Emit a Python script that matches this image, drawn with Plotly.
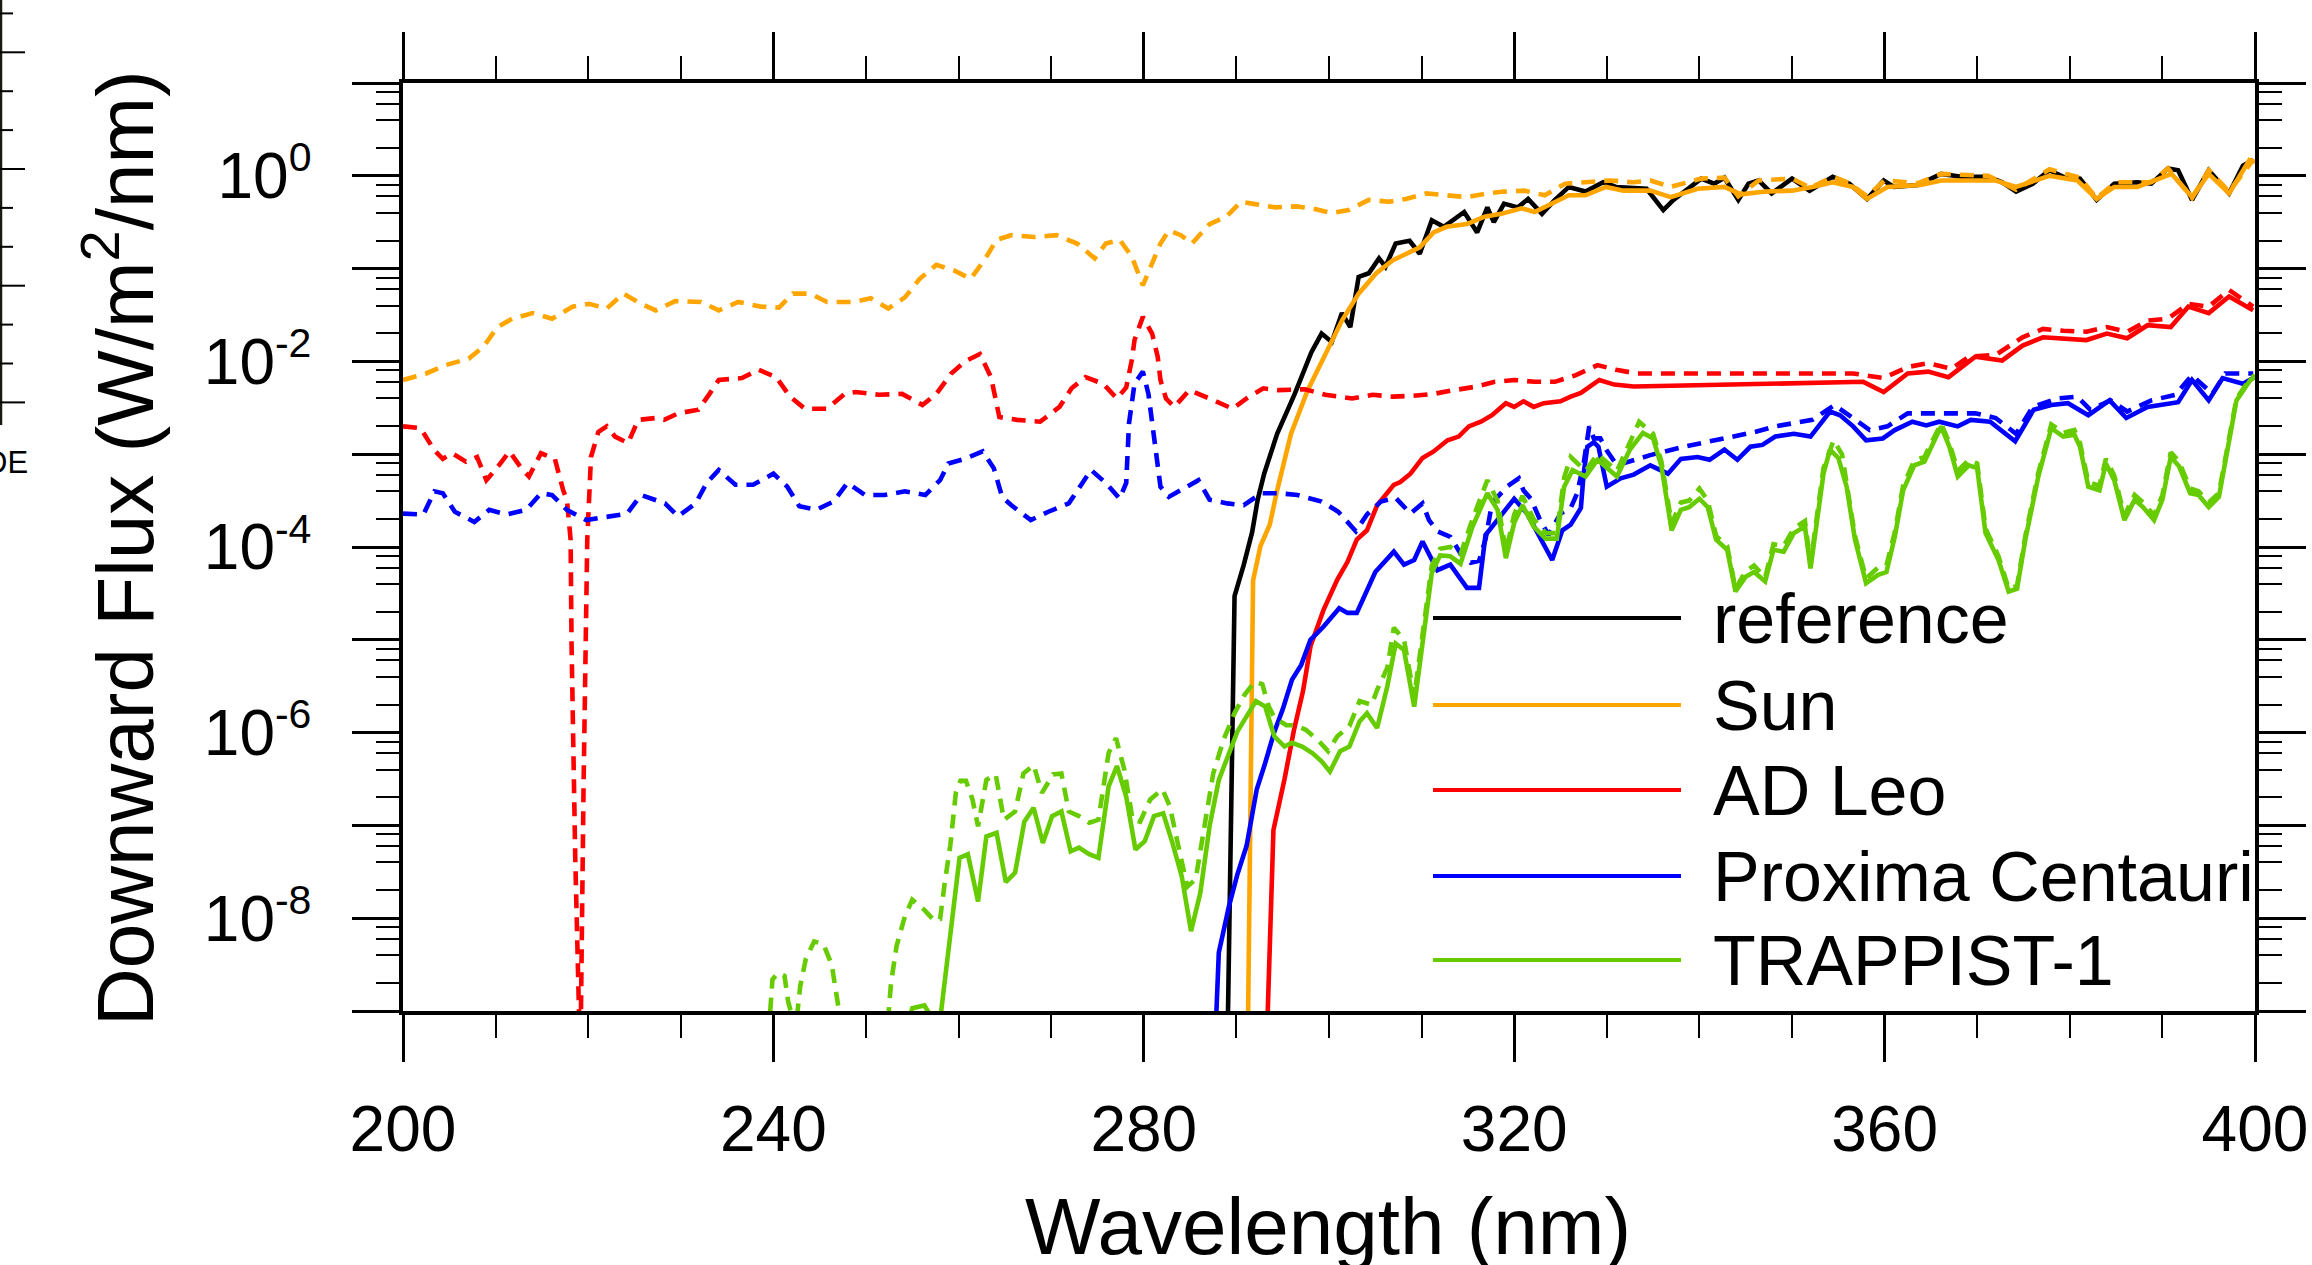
import numpy as np
import plotly.graph_objects as go

# ---------------- data (wavelength in nm, log10 of downward flux in W/m2/nm) ----------------
ref_wl = [289.0, 289.8, 290.8, 291.7, 292.3, 293.0, 294.4, 296.3, 298.1, 299.2, 300.3, 301.4, 302.3,
          303.2, 304.3, 305.4, 306.1, 307.2, 308.7, 309.8, 311.1, 312.4, 314.6, 316.0, 317.1, 317.8,
          318.9, 320.4, 321.5, 323.0, 324.4, 325.9, 327.7, 329.6, 331.0, 334.3, 336.1, 337.2, 340.2,
          341.6, 342.7, 344.2, 345.3, 346.4, 347.8, 350.0, 351.9, 354.4, 356.2, 358.1, 359.9, 361.0,
          363.6, 366.1, 368.3, 371.2, 372.7, 374.2, 376.0, 377.8, 379.3, 381.1, 382.9, 384.8, 387.3,
          388.8, 390.6, 391.7, 393.2, 395.0, 397.2, 398.7, 399.8]
ref_log = [-9.6, -4.53, -4.19, -3.84, -3.49, -3.21, -2.78, -2.35, -1.90, -1.70, -1.79, -1.48, -1.63,
           -1.09, -1.05, -0.89, -0.98, -0.73, -0.70, -0.84, -0.48, -0.55, -0.39, -0.61, -0.34, -0.50,
           -0.30, -0.34, -0.25, -0.41, -0.26, -0.12, -0.17, -0.07, -0.12, -0.14, -0.37, -0.26, -0.03,
           -0.085, -0.02, -0.26, -0.085, -0.05, -0.19, -0.03, -0.16, -0.01, -0.085, -0.25, -0.05, -0.12,
           -0.10, 0.02, -0.01, -0.01, -0.07, -0.17, -0.085, 0.06, -0.01, -0.03, -0.26, -0.085, -0.07,
           -0.085, 0.08, 0.06, -0.26, 0.06, -0.19, 0.11, 0.17]

sun_wl = [291.2, 291.8, 292.6, 293.6, 294.4, 295.9, 297.7, 299.6, 301.4, 303.2, 305.1, 306.9, 308.3,
          309.8, 311.3, 312.7, 314.9, 316.8, 318.6, 320.8, 322.2, 324.1, 325.9, 327.7, 329.9, 331.8,
          334.7, 336.9, 339.8, 342.7, 344.5, 347.1, 350.0, 352.2, 354.4, 356.6, 358.1, 360.3, 363.9,
          366.1, 368.3, 372.0, 374.2, 377.8, 380.8, 382.9, 384.8, 387.3, 391.0, 393.2, 395.0, 397.2,
          399.4, 400.0]
sun_log = [-9.6, -4.36, -3.99, -3.76, -3.39, -2.78, -2.31, -1.92, -1.56, -1.27, -1.05, -0.91, -0.84,
           -0.77, -0.61, -0.55, -0.52, -0.44, -0.41, -0.35, -0.39, -0.30, -0.21, -0.21, -0.12, -0.16,
           -0.16, -0.23, -0.14, -0.12, -0.20, -0.17, -0.16, -0.12, -0.07, -0.12, -0.25, -0.12, -0.10,
           -0.05, -0.05, -0.05, -0.12, 0.00, -0.05, -0.25, -0.12, -0.12, 0.02, -0.23, 0.02, -0.19,
           0.17, 0.15]

sun_toa_wl = [200.0, 202.5, 204.6, 207.1, 208.7, 210.2, 211.8, 214.0, 216.1, 218.3, 220.1, 222.0, 223.8,
              225.7, 227.3, 229.4, 232.2, 234.1, 236.2, 238.7, 240.6, 242.1, 244.0, 245.8, 248.6, 250.5,
              252.4, 254.2, 255.8, 257.6, 259.5, 261.3, 262.9, 264.1, 265.7, 268.2, 270.6, 272.8, 274.7,
              275.9, 277.4, 278.7, 279.9, 280.9, 281.8, 282.7, 284.0, 285.2, 287.1, 288.9, 290.5, 291.7,
              294.2, 296.5, 298.1, 300.3, 302.1, 304.3, 306.5, 308.3, 310.5, 312.7, 314.9, 317.1, 318.9,
              321.1, 323.3, 325.5, 327.7, 330.3, 332.8, 334.7, 336.9, 340.2, 342.7, 344.2, 346.4, 350.0,
              352.0, 354.4, 356.2, 358.1, 360.0, 363.6, 366.1, 371.2, 374.2, 377.8, 381.1, 382.9, 385.0,
              388.8, 390.6, 393.2, 395.0, 397.2, 399.8]
sun_toa_log = [-2.20, -2.13, -2.04, -1.97, -1.84, -1.63, -1.54, -1.48, -1.54, -1.41, -1.38, -1.43, -1.27,
               -1.38, -1.45, -1.35, -1.36, -1.45, -1.36, -1.41, -1.42, -1.27, -1.27, -1.36, -1.36, -1.32,
               -1.43, -1.31, -1.11, -0.96, -1.02, -1.11, -0.89, -0.69, -0.64, -0.66, -0.64, -0.73, -0.89,
               -0.73, -0.69, -0.87, -1.18, -0.95, -0.73, -0.59, -0.64, -0.73, -0.52, -0.44, -0.28, -0.30,
               -0.34, -0.33, -0.35, -0.40, -0.37, -0.26, -0.28, -0.25, -0.19, -0.21, -0.23, -0.19, -0.17,
               -0.16, -0.21, -0.085, -0.07, -0.05, -0.07, -0.05, -0.12, -0.03, -0.02, -0.22, -0.05, -0.03,
               -0.13, -0.01, -0.08, -0.22, -0.05, -0.08, 0.02, 0.00, -0.15, 0.07, -0.02, -0.24, -0.07,
               -0.07, 0.08, -0.24, 0.06, -0.17, 0.17]

adleo_wl = [293.2, 294.0, 295.2, 296.2, 297.2, 298.0, 299.4, 300.9, 302.0, 303.0, 304.1, 305.2, 307.0,
            307.7, 308.8, 310.1, 311.3, 312.8, 314.0, 315.1, 316.4, 317.6, 319.1, 320.0, 321.0, 322.1,
            323.2, 325.0, 326.1, 327.2, 328.2, 329.2, 330.8, 332.9, 338.3, 346.4, 357.7, 359.9, 362.5,
            364.7, 366.9, 369.8, 372.7, 374.9, 377.1, 381.8, 384.0, 386.2, 388.4, 390.9, 392.8, 395.0,
            397.2, 399.8]
adleo_log = [-9.6, -7.05, -6.50, -5.98, -5.55, -5.07, -4.68, -4.35, -4.16, -3.92, -3.82, -3.55, -3.33,
             -3.30, -3.21, -3.04, -2.97, -2.85, -2.81, -2.70, -2.65, -2.58, -2.45, -2.49, -2.43, -2.49,
             -2.45, -2.43, -2.38, -2.34, -2.27, -2.20, -2.25, -2.27, -2.26, -2.24, -2.22, -2.33, -2.13,
             -2.11, -2.17, -1.95, -1.99, -1.83, -1.74, -1.77, -1.70, -1.75, -1.61, -1.63, -1.41, -1.48,
             -1.30, -1.45]

adleo_toa_wl = [200.0, 201.9, 203.4, 204.3, 205.3, 206.8, 208.0, 209.0, 210.2, 211.5, 212.7, 213.6, 214.9,
                216.4, 217.3, 217.7, 218.1, 218.2, 218.6, 219.15, 219.5, 219.8, 219.9, 220.3, 221.1, 222.0,
                222.9, 224.3, 225.4, 227.3, 228.2, 229.7, 231.9, 233.1, 234.1, 236.6, 238.4, 240.3, 241.8,
                243.4, 245.8, 247.7, 248.9, 251.4, 253.9, 256.1, 257.6, 259.2, 260.7, 262.3, 263.5, 264.4,
                266.3, 268.8, 270.9, 272.2, 273.7, 275.6, 277.1, 278.1, 278.7, 279.0, 279.9, 280.9, 281.5,
                281.8, 282.4, 283.3, 284.9, 287.1, 289.6, 291.1, 292.9, 294.5, 297.4, 299.6, 302.5, 304.7,
                306.9, 309.1, 311.3, 313.5, 316.0, 317.9, 320.0, 322.2, 324.4, 326.6, 329.0, 331.0, 333.2,
                336.9, 342.7, 350.0, 356.6, 359.9, 362.5, 364.7, 367.2, 369.1, 372.0, 374.9, 377.1, 379.3,
                381.8, 384.0, 386.2, 388.4, 390.6, 392.8, 395.0, 397.2, 399.8]
adleo_toa_log = [-2.70, -2.72, -2.96, -3.05, -2.99, -3.08, -3.03, -3.28, -3.14, -2.97, -3.14, -3.24, -2.99,
                 -3.05, -3.39, -3.49, -3.92, -5.03, -7.34, -9.6, -6.57, -4.26, -3.92, -3.03, -2.76, -2.70,
                 -2.81, -2.88, -2.63, -2.61, -2.63, -2.56, -2.52, -2.35, -2.20, -2.18, -2.09, -2.17, -2.38,
                 -2.51, -2.51, -2.35, -2.33, -2.36, -2.35, -2.47, -2.35, -2.13, -2.00, -1.92, -2.17, -2.60,
                 -2.63, -2.65, -2.49, -2.29, -2.17, -2.24, -2.40, -2.28, -1.99, -1.77, -1.52, -1.70, -1.95,
                 -2.20, -2.40, -2.49, -2.31, -2.40, -2.51, -2.40, -2.29, -2.31, -2.30, -2.36, -2.40, -2.36,
                 -2.38, -2.37, -2.35, -2.31, -2.27, -2.22, -2.20, -2.22, -2.22, -2.15, -2.04, -2.09, -2.13,
                 -2.13, -2.13, -2.13, -2.13, -2.18, -2.06, -2.02, -2.08, -1.95, -1.93, -1.74, -1.65, -1.67,
                 -1.68, -1.63, -1.68, -1.56, -1.54, -1.38, -1.41, -1.23, -1.41]

prox_wl = [287.6, 288.1, 289.2, 290.1, 291.1, 292.2, 293.1, 294.1, 295.0, 296.0, 297.0, 298.0, 299.4,
           301.1, 302.0, 303.0, 305.0, 307.0, 308.1, 309.2, 310.1, 310.8, 311.7, 313.1, 314.9, 316.2,
           316.9, 318.5, 320.0, 321.4, 322.8, 324.1, 325.2, 326.1, 327.2, 327.5, 327.9, 328.6, 329.1,
           330.0, 331.5, 332.9, 334.7, 336.6, 338.0, 339.8, 341.1, 342.7, 344.1, 345.5, 346.8, 348.2,
           350.2, 352.0, 354.1, 355.2, 356.6, 358.0, 359.8, 361.1, 363.0, 364.5, 365.9, 367.9, 369.3,
           371.4, 374.1, 376.1, 378.0, 379.8, 382.0, 384.3, 386.1, 388.4, 391.7, 393.2, 395.0, 396.5,
           398.7, 399.8]
prox_log = [-9.6, -8.37, -7.87, -7.53, -7.22, -6.61, -6.33, -5.99, -5.75, -5.43, -5.27, -5.00, -4.86,
            -4.66, -4.71, -4.71, -4.27, -4.05, -4.19, -4.14, -3.94, -4.07, -4.25, -4.19, -4.44, -4.44,
            -3.87, -3.67, -3.48, -3.64, -3.89, -4.14, -3.82, -3.76, -3.58, -3.21, -2.92, -2.87, -2.92,
            -3.35, -3.26, -3.22, -3.12, -3.21, -3.05, -3.03, -3.06, -2.95, -3.06, -2.92, -2.90, -2.81,
            -2.78, -2.81, -2.54, -2.58, -2.70, -2.85, -2.83, -2.74, -2.65, -2.69, -2.65, -2.70, -2.63,
            -2.65, -2.86, -2.52, -2.47, -2.45, -2.58, -2.42, -2.61, -2.49, -2.44, -2.20, -2.42, -2.18,
            -2.24, -2.18]

prox_toa_wl = [200.0, 202.2, 203.4, 204.3, 205.6, 207.7, 209.3, 211.2, 213.3, 214.9, 216.1, 217.7, 219.8,
               222.3, 224.2, 225.7, 228.3, 229.7, 231.6, 232.8, 234.1, 235.9, 237.8, 240.0, 241.5, 242.8,
               244.6, 246.5, 248.0, 249.9, 252.0, 254.2, 256.4, 258.0, 258.9, 260.7, 262.6, 263.8, 264.7,
               265.7, 267.8, 269.7, 271.9, 273.1, 274.3, 275.9, 277.4, 278.1, 278.4, 279.0, 279.9, 280.5,
               281.2, 281.8, 282.7, 284.3, 285.9, 287.1, 289.0, 290.8, 292.7, 294.5, 296.6, 299.2, 301.0,
               302.9, 304.1, 305.6, 307.2, 308.8, 310.1, 310.8, 311.7, 313.1, 314.2, 315.3, 316.2, 316.9,
               317.6, 319.2, 320.5, 321.0, 321.8, 322.8, 323.7, 325.0, 326.1, 326.8, 327.5, 328.1, 328.6,
               329.3, 330.0, 331.1, 332.9, 334.7, 338.3, 342.7, 346.0, 348.2, 350.3, 352.2, 354.6, 355.9,
               358.4, 360.3, 362.5, 364.7, 367.6, 369.8, 372.0, 374.2, 376.0, 378.6, 380.8, 382.2, 384.4,
               386.2, 388.8, 391.4, 393.2, 395.4, 396.8, 399.8]
prox_toa_log = [-3.64, -3.65, -3.40, -3.42, -3.62, -3.73, -3.60, -3.65, -3.60, -3.42, -3.44, -3.60, -3.71,
                -3.67, -3.64, -3.44, -3.53, -3.67, -3.53, -3.31, -3.17, -3.33, -3.33, -3.21, -3.35, -3.56,
                -3.60, -3.51, -3.31, -3.44, -3.44, -3.40, -3.44, -3.28, -3.10, -3.05, -2.97, -3.15, -3.46,
                -3.55, -3.71, -3.62, -3.53, -3.35, -3.17, -3.31, -3.48, -3.31, -2.67, -2.24, -2.11, -2.35,
                -2.85, -3.35, -3.46, -3.37, -3.28, -3.49, -3.53, -3.55, -3.42, -3.42, -3.44, -3.51, -3.62,
                -3.83, -3.65, -3.51, -3.47, -3.64, -3.53, -3.71, -3.83, -3.89, -4.07, -4.17, -4.15, -3.92,
                -3.53, -3.35, -3.26, -3.39, -3.48, -3.71, -3.87, -3.64, -3.58, -3.42, -3.10, -2.70, -2.83,
                -2.83, -2.96, -3.12, -3.06, -3.01, -2.92, -2.83, -2.76, -2.70, -2.66, -2.63, -2.47, -2.56,
                -2.74, -2.70, -2.56, -2.56, -2.56, -2.56, -2.61, -2.78, -2.49, -2.40, -2.38, -2.52, -2.42,
                -2.54, -2.42, -2.36, -2.15, -2.35, -2.13, -2.13]

trap_wl = [253.5, 255.0, 256.3, 257.3, 258.0, 259.1, 260.1, 261.0, 262.1, 263.0, 264.1, 265.1, 266.1,
           267.1, 268.1, 269.1, 270.1, 271.1, 272.1, 273.0, 274.1, 275.1, 276.2, 277.1, 278.1, 279.1,
           280.1, 281.1, 282.1, 283.1, 284.1, 285.1, 286.1, 287.1, 288.1, 290.1, 292.1, 293.1, 294.1,
           295.2, 296.0, 297.1, 298.2, 299.2, 300.1, 301.2, 302.2, 303.3, 304.1, 305.2, 306.3, 307.2,
           308.1, 309.2, 310.1, 311.1, 312.0, 313.1, 314.2, 315.5, 317.1, 318.2, 319.1, 320.0, 320.9,
           322.1, 323.4, 324.6, 325.4, 326.3, 327.7, 329.0, 331.1, 332.5, 333.9, 335.0, 335.9, 337.0,
           338.0, 338.9, 340.0, 340.9, 341.8, 343.0, 343.9, 345.0, 345.9, 347.1, 348.0, 349.1, 350.2,
           351.4, 352.0, 353.4, 354.1, 355.0, 355.9, 356.8, 358.0, 359.3, 360.2, 361.1, 362.0, 363.2,
           364.3, 366.1, 367.0, 367.9, 369.1, 370.0, 370.9, 372.3, 373.4, 374.3, 375.2, 376.6, 378.0,
           379.3, 380.5, 381.1, 382.0, 383.2, 383.9, 384.8, 385.9, 387.0, 387.9, 389.1, 390.0, 390.9,
           391.8, 393.0, 393.9, 395.0, 396.1, 397.1, 398.0, 399.5, 400.0]
trap_log = [-9.5, -8.97, -8.94, -9.1, -9.1, -8.23, -7.35, -7.31, -7.82, -7.12, -7.08, -7.61, -7.51,
            -6.96, -6.81, -7.19, -6.90, -6.85, -7.28, -7.24, -7.31, -7.35, -6.58, -6.36, -6.69, -7.26,
            -7.17, -6.90, -6.87, -7.19, -7.55, -8.14, -7.73, -7.01, -6.51, -5.99, -5.66, -5.72, -6.04,
            -6.15, -6.11, -6.15, -6.22, -6.31, -6.42, -6.20, -6.15, -5.88, -5.79, -5.95, -5.50, -5.04,
            -5.11, -5.72, -5.04, -4.28, -4.09, -4.10, -4.18, -3.78, -3.42, -3.60, -4.12, -3.74, -3.55,
            -3.78, -3.91, -3.91, -3.35, -3.17, -3.24, -3.06, -3.24, -2.95, -2.77, -2.83, -3.13, -3.82,
            -3.60, -3.57, -3.48, -3.57, -3.92, -4.03, -4.48, -4.32, -4.27, -4.37, -4.03, -4.05, -3.85,
            -3.78, -4.23, -3.21, -2.95, -3.04, -3.35, -3.92, -4.39, -4.30, -4.27, -3.89, -3.39, -3.12,
            -3.08, -2.70, -2.92, -3.24, -3.12, -3.15, -3.85, -4.14, -4.48, -4.45, -3.92, -3.24, -2.72,
            -2.81, -2.79, -2.92, -3.35, -3.39, -3.10, -3.28, -3.71, -3.49, -3.57, -3.71, -3.49, -3.03,
            -3.13, -3.42, -3.44, -3.57, -3.46, -2.88, -2.42, -2.20, -2.17]

trap_toa_wl = [239.3, 239.9, 240.5, 241.2, 241.6, 242.4, 242.9, 243.5, 244.4, 245.4, 246.3, 246.9, 247.4,
               252.3, 252.7, 253.3, 254.2, 255.0, 256.3, 257.4, 258.0, 258.5, 259.1, 259.7, 260.2, 260.8,
               261.5, 262.1, 263.0, 264.0, 264.9, 266.1, 267.0, 268.1, 269.0, 270.2, 271.1, 271.9, 273.0,
               274.1, 275.1, 276.2, 277.0, 277.9, 278.8, 279.6, 280.7, 282.0, 282.8, 283.9, 284.7, 285.6,
               286.4, 287.5, 288.6, 289.8, 290.9, 292.0, 292.8, 293.5, 294.1, 295.4, 296.3, 297.5, 298.8,
               299.9, 300.9, 302.2, 303.3, 304.6, 305.2, 306.3, 307.0, 308.1, 309.2, 310.1, 311.1, 312.0,
               313.1, 314.2, 315.5, 317.1, 318.2, 319.1, 320.0, 320.9, 322.1, 323.4, 324.6, 325.4, 326.1,
               327.7, 329.0, 331.1, 332.5, 333.5, 335.0, 335.9, 337.0, 338.0, 338.9, 340.0, 340.9, 341.8,
               343.0, 343.9, 345.0, 345.9, 347.1, 348.0, 349.1, 350.2, 351.4, 352.0, 353.4, 354.5, 355.4,
               355.9, 356.8, 358.0, 359.3, 360.2, 361.1, 362.0, 363.2, 364.3, 366.1, 367.0, 367.9, 369.1,
               370.0, 370.9, 372.3, 373.4, 374.3, 375.2, 376.6, 378.0, 379.3, 380.5, 381.1, 382.0, 383.2,
               383.9, 384.8, 385.9, 387.0, 387.9, 389.1, 390.0, 390.9, 391.8, 393.0, 393.9, 395.0, 396.1,
               397.1, 398.0, 399.5, 400.0]
trap_toa_log = [-9.5, -8.66, -8.59, -8.62, -8.90, -9.2, -8.73, -8.44, -8.25, -8.28, -8.50, -8.84, -9.2,
                -9.2, -8.70, -8.30, -7.98, -7.80, -7.91, -8.03, -8.01, -7.62, -7.22, -6.65, -6.52, -6.52,
                -6.72, -7.01, -6.51, -6.45, -6.94, -6.85, -6.44, -6.35, -6.65, -6.45, -6.44, -6.85, -6.90,
                -6.97, -6.94, -6.22, -6.06, -6.40, -6.94, -6.96, -6.72, -6.61, -6.79, -7.30, -7.66, -7.58,
                -7.12, -6.44, -6.08, -5.79, -5.59, -5.45, -5.48, -5.72, -5.84, -5.92, -5.92, -5.97, -6.08,
                -6.20, -6.04, -5.93, -5.66, -5.70, -5.54, -5.30, -4.87, -5.00, -5.62, -4.95, -4.20, -4.02,
                -4.00, -4.08, -3.70, -3.28, -3.50, -4.05, -3.65, -3.45, -3.70, -3.85, -3.85, -3.25, -3.03,
                -3.18, -3.00, -3.18, -2.88, -2.65, -2.78, -3.08, -3.75, -3.52, -3.50, -3.37, -3.50, -3.88,
                -3.99, -4.45, -4.26, -4.20, -4.33, -3.97, -3.99, -3.80, -3.72, -4.18, -3.15, -2.85, -3.00,
                -3.30, -3.88, -4.34, -4.22, -4.20, -3.84, -3.34, -3.07, -3.03, -2.67, -2.88, -3.18, -3.06,
                -3.10, -3.80, -4.10, -4.45, -4.42, -3.88, -3.20, -2.68, -2.77, -2.74, -2.88, -3.30, -3.34,
                -3.05, -3.23, -3.66, -3.44, -3.52, -3.66, -3.44, -2.98, -3.08, -3.37, -3.40, -3.52, -3.42,
                -2.85, -2.40, -2.18, -2.15]

legend_names = ["reference", "Sun", "AD Leo", "Proxima Centauri", "TRAPPIST-1"]
x_tick_values = [200, 240, 280, 320, 360, 400]
x_minor_values = [v for v in range(200, 401, 10) if v % 40 != 0]
y_exponents = list(range(-9, 2))

# ---------------- styling ----------------
FONT = "Liberation Sans, Arial, Helvetica, sans-serif"
C_BLACK, C_ORANGE, C_RED, C_BLUE, C_GREEN = "#000000", "#FFA500", "#FF0000", "#0000FF", "#66CC00"
LW = 4.6
DASH = "14px,9px"

W_FIG, H_FIG = 2312, 1265
ML, MR, MT, MB = 403, 57, 83, 254
PW, PH = W_FIG - ML - MR, H_FIG - MT - MB


def px(x):
    return (x - ML) / PW


def py(y):
    return (H_FIG - MB - y) / PH


series = [
    (ref_wl, ref_log, C_BLACK, "solid"),
    (sun_wl, sun_log, C_ORANGE, "solid"),
    (sun_toa_wl, sun_toa_log, C_ORANGE, DASH),
    (adleo_wl, adleo_log, C_RED, "solid"),
    (adleo_toa_wl, adleo_toa_log, C_RED, DASH),
    (prox_wl, prox_log, C_BLUE, "solid"),
    (prox_toa_wl, prox_toa_log, C_BLUE, DASH),
    (trap_wl, trap_log, C_GREEN, "solid"),
    (trap_toa_wl, trap_toa_log, C_GREEN, DASH),
]

fig = go.Figure()
for wl, lg, col, dash in series:
    assert len(wl) == len(lg), (len(wl), len(lg))
    fig.add_trace(go.Scatter(x=wl, y=np.power(10.0, lg), mode="lines",
                             line=dict(color=col, width=LW, dash=dash),
                             showlegend=False, hoverinfo="skip"))

tick_font = dict(family=FONT, size=64, color="black")

fig.update_xaxes(
    range=[200, 400], tickmode="array", tickvals=x_tick_values,
    ticks="outside", ticklen=47, tickwidth=2.5, tickcolor="black",
    showline=True, linewidth=3.5, linecolor="black", mirror="ticks",
    showgrid=False, zeroline=False, tickfont=tick_font, automargin=False,
    ticklabelstandoff=12,
    minor=dict(tickmode="array", tickvals=x_minor_values, ticks="outside",
               ticklen=23, tickwidth=2, tickcolor="black", showgrid=False),
)

y_tickvals = [10.0 ** k for k in y_exponents]
y_ticktext = [("10<sup><span style='font-size:41px'>%d</span></sup>" % k) if k % 2 == 0 and k <= 0 else ""
              for k in y_exponents]
y_minor = [m * 10.0 ** k for k in y_exponents[:-1] for m in (2, 4, 6, 8)]

fig.update_yaxes(
    type="log", range=[-9, 1], tickmode="array", tickvals=y_tickvals, ticktext=y_ticktext,
    ticks="outside", ticklen=47, tickwidth=2.5, tickcolor="black",
    showline=True, linewidth=3.5, linecolor="black", mirror="ticks",
    showgrid=False, zeroline=False, tickfont=tick_font, automargin=False,
    ticklabelstandoff=28,
    minor=dict(tickmode="array", tickvals=y_minor, ticks="outside",
               ticklen=23, tickwidth=2, tickcolor="black", showgrid=False),
)

shapes = []
annotations = []

# legend (drawn manually, long line samples like the original)
leg_line_y = [618, 705, 790, 876, 960]
leg_colors = [C_BLACK, C_ORANGE, C_RED, C_BLUE, C_GREEN]
for name, col, yy in zip(legend_names, leg_colors, leg_line_y):
    shapes.append(dict(type="line", xref="paper", yref="paper",
                       x0=px(1433), x1=px(1681), y0=py(yy), y1=py(yy),
                       line=dict(color=col, width=4)))
    annotations.append(dict(text=name, xref="paper", yref="paper", x=px(1711), y=py(yy + 1),
                            xanchor="left", yanchor="middle", showarrow=False,
                            font=dict(family=FONT, size=70, color="black")))

# axis titles
annotations.append(dict(text="Wavelength (nm)", xref="paper", yref="paper",
                        x=px(1328), y=py(1226), xanchor="center", yanchor="middle",
                        showarrow=False, font=dict(family=FONT, size=80, color="black")))
annotations.append(dict(text="Downward Flux (W/m<sup>2</sup>/nm)", xref="paper", yref="paper",
                        x=px(119), y=py(548), xanchor="center", yanchor="middle", textangle=-90,
                        showarrow=False, font=dict(family=FONT, size=80, color="black")))

# remnant of the neighbouring panel at the far left edge
shapes.append(dict(type="line", xref="paper", yref="paper", x0=px(1), x1=px(1),
                   y0=py(0), y1=py(425), line=dict(color="#1a1a10", width=2.5)))
for i in range(11):
    yy = 13.4 + 38.9 * i
    long_tick = (i % 3 == 1)
    shapes.append(dict(type="line", xref="paper", yref="paper", x0=px(0), x1=px(25 if long_tick else 13),
                       y0=py(yy), y1=py(yy), line=dict(color="black", width=2)))
annotations.append(dict(text="DE", xref="paper", yref="paper", x=px(30), y=py(462),
                        xanchor="right", yanchor="middle", showarrow=False,
                        font=dict(family=FONT, size=31, color="black")))

fig.update_layout(
    width=W_FIG, height=H_FIG, autosize=False,
    margin=dict(l=ML, r=MR, t=MT, b=MB, pad=0, autoexpand=False),
    paper_bgcolor="white", plot_bgcolor="white",
    showlegend=False, shapes=shapes, annotations=annotations,
    font=dict(family=FONT, color="black"),
)

fig.write_html("out.html")
